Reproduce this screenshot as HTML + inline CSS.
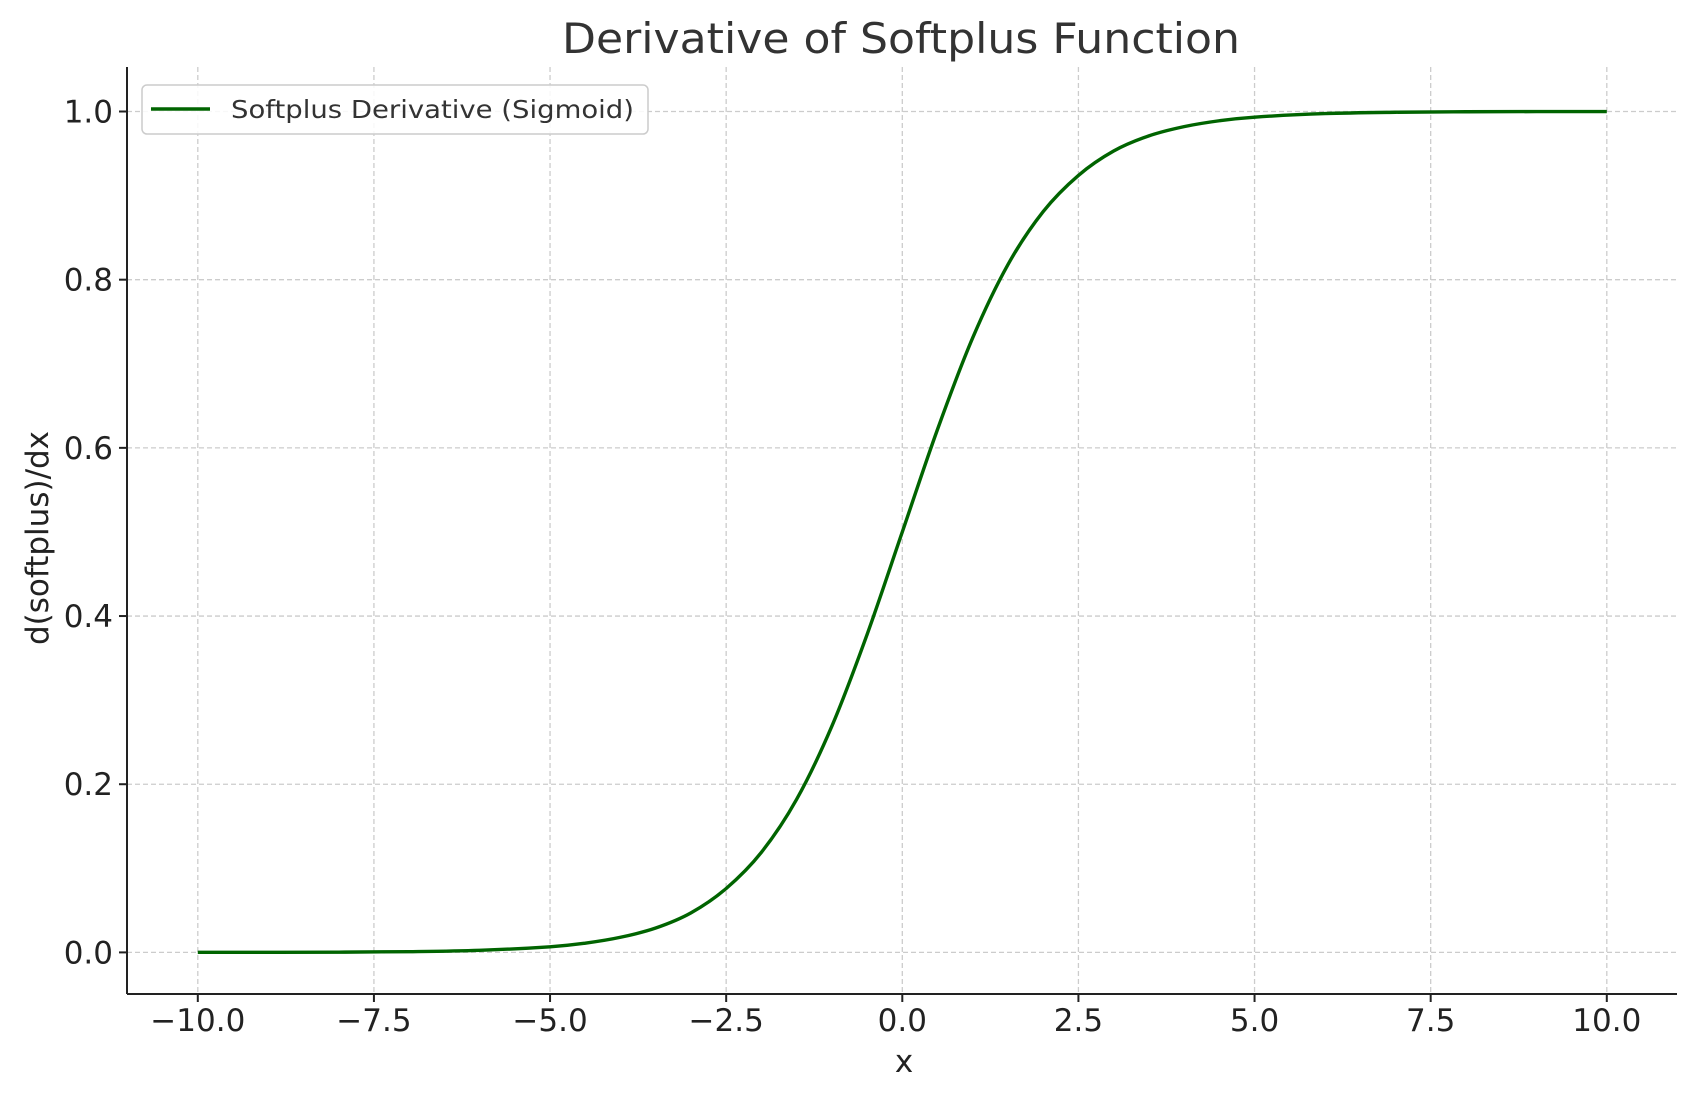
<!DOCTYPE html>
<html><head><meta charset="utf-8"><style>
html,body{margin:0;padding:0;background:#fff}
svg{display:block;font-family:"DejaVu Sans","Liberation Sans",sans-serif}
</style></head><body>
<svg id="chart" width="1697" height="1101" viewBox="0 0 1697 1101">
<text x="901" y="53" font-size="42" fill="#333" text-anchor="middle" textLength="678" lengthAdjust="spacingAndGlyphs">Derivative of Softplus Function</text>
<g id="grid"></g>
<g id="ticks"></g>
<path id="curve" fill="none" stroke="#006400" stroke-width="3.4" stroke-linejoin="round"/>
<line x1="127" y1="67" x2="127" y2="994" stroke="#222" stroke-width="2"/>
<line x1="127" y1="994" x2="1677" y2="994" stroke="#222" stroke-width="2"/>
<text x="904" y="1072" font-size="31" fill="#222" text-anchor="middle">x</text>
<text transform="translate(48,538) rotate(-90)" font-size="31" fill="#222" text-anchor="middle">d(softplus)/dx</text>
<g>
<rect x="142" y="85" width="506" height="49" rx="5" fill="#fff" fill-opacity="0.85" stroke="#ccc" stroke-width="1.5"/>
<line x1="151" y1="109" x2="210" y2="109" stroke="#006400" stroke-width="3.4"/>
<text x="231" y="118" font-size="25" fill="#333" textLength="403" lengthAdjust="spacingAndGlyphs">Softplus Derivative (Sigmoid)</text>
</g>
</svg>
<script>
const xs=[-10,-9,-8,-7,-6,-5,-4.5,-4,-3.5,-3,-2.5,-2,-1.5,-1,-0.5,0,0.5,1,1.5,2,2.5,3,3.5,4,4.5,5,6,7,8,9,10];
const ys=[0.00005,0.0001,0.0003,0.0009,0.0025,0.0067,0.011,0.018,0.029,0.047,0.076,0.119,0.182,0.269,0.378,0.5,0.622,0.731,0.818,0.881,0.924,0.953,0.971,0.982,0.989,0.9933,0.9975,0.9991,0.9997,0.9999,0.99995];
const xTicks=[-10,-7.5,-5,-2.5,0,2.5,5,7.5,10];
const xTickLabels=["\u221210.0","\u22127.5","\u22125.0","\u22122.5","0.0","2.5","5.0","7.5","10.0"];
const yTicks=[0,0.2,0.4,0.6,0.8,1.0];
const yTickLabels=["0.0","0.2","0.4","0.6","0.8","1.0"];
const X=v=>197.8+(v+10)*70.45;
const Y=v=>952.4-v*840.9;
const NS="http://www.w3.org/2000/svg";
const grid=document.getElementById('grid'),ticks=document.getElementById('ticks');
function mk(tag,attrs,parent){const e=document.createElementNS(NS,tag);for(const k in attrs)e.setAttribute(k,attrs[k]);parent.appendChild(e);return e;}
xTicks.forEach((t,i)=>{
  const g=mk('line',{x1:X(t),x2:X(t),y1:67,y2:994,stroke:'#ccc','stroke-width':1.3,'stroke-dasharray':'5,3'},grid);
  
  
  const tk=mk('line',{x1:X(t),x2:X(t),y1:994,y2:1002,stroke:'#222','stroke-width':2},ticks);
  
  
  const tx=mk('text',{x:X(t),y:1031,'font-size':31,fill:'#222','text-anchor':'middle'},ticks);
  tx.textContent=xTickLabels[i];
  
  
});
yTicks.forEach((t,i)=>{
  const g=mk('line',{x1:127,x2:1677,y1:Y(t),y2:Y(t),stroke:'#ccc','stroke-width':1.3,'stroke-dasharray':'5,3'},grid);
  
  
  const tk=mk('line',{x1:119,x2:127,y1:Y(t),y2:Y(t),stroke:'#222','stroke-width':2},ticks);
  
  
  const tx=mk('text',{x:113,y:Y(t)+11,'font-size':31,fill:'#222','text-anchor':'end'},ticks);
  tx.textContent=yTickLabels[i];
  
  
});
const P=xs.map((x,i)=>[X(x),Y(ys[i])]);
let d='M'+P[0][0]+','+P[0][1];
for(let i=0;i<P.length-1;i++){
  const p0=P[i-1]||P[i],p1=P[i],p2=P[i+1],p3=P[i+2]||P[i+1];
  const c1=[p1[0]+(p2[0]-p0[0])/6,p1[1]+(p2[1]-p0[1])/6];
  const c2=[p2[0]-(p3[0]-p1[0])/6,p2[1]-(p3[1]-p1[1])/6];
  d+=' C'+c1+' '+c2+' '+p2;
}
document.getElementById('curve').setAttribute('d',d);
</script>
</body></html>
